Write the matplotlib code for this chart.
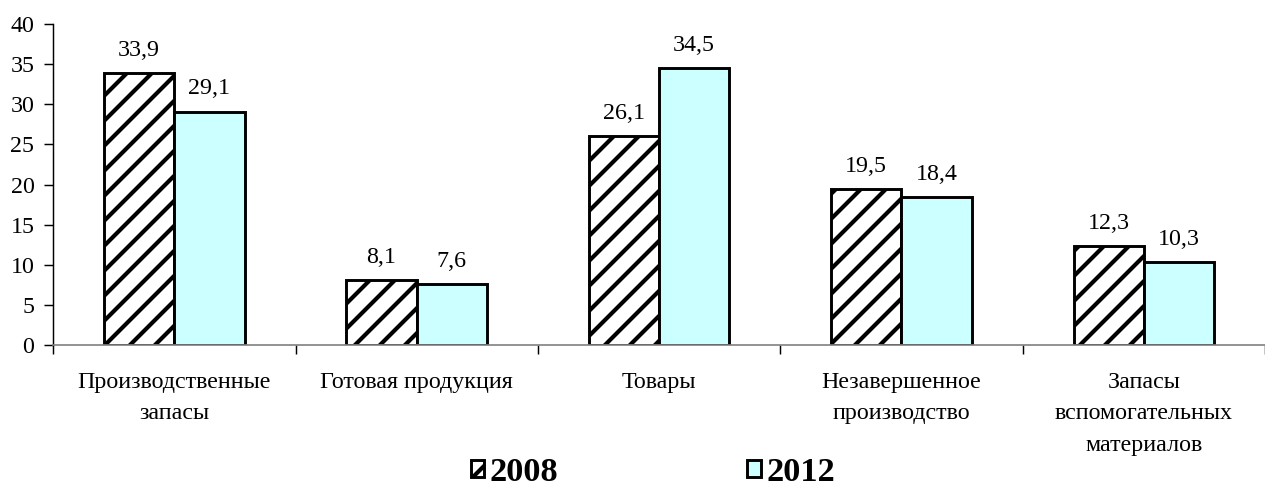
import matplotlib.pyplot as plt
import numpy as np

plt.rcParams['font.family'] = ['Liberation Serif', 'DejaVu Serif']
plt.rcParams['hatch.linewidth'] = 2.0

categories = ['Производственные\nзапасы', 'Готовая продукция', 'Товары',
              'Незавершенное\nпроизводство', 'Запасы\nвспомогательных\nматериалов']
series_names = ['2008', '2012']
values_2008 = [33.9, 8.1, 26.1, 19.5, 12.3]
values_2012 = [29.1, 7.6, 34.5, 18.4, 10.3]

DPI = 150
fs = 11.5

fig = plt.figure(figsize=(1265 / DPI, 487 / DPI), dpi=DPI)
ax = fig.add_axes([0.042, 0.2916, 0.958, 0.659])

x = np.arange(len(categories))
w = 0.29
b1 = ax.bar(x - w / 2, values_2008, w, color='white', edgecolor='black',
            hatch='//', linewidth=1.4, label=series_names[0])
b2 = ax.bar(x + w / 2, values_2012, w, color='#ccffff', edgecolor='black',
            linewidth=1.4, label=series_names[1])

for bars, vals in ((b1, values_2008), (b2, values_2012)):
    for r, v in zip(bars, vals):
        ax.text(r.get_x() + r.get_width() / 2, v + 1.5, f'{v:.1f}'.replace('.', ','),
                ha='center', va='bottom', fontsize=fs)

ax.set_xlim(-0.5, 4.5)
ax.set_ylim(0, 40)
ax.set_yticks(range(0, 41, 5))
ax.tick_params(axis='y', labelsize=fs, length=4.5, width=0.7, direction='out', pad=4.5)
ax.set_xticks(x)
ax.set_xticklabels(categories, fontsize=fs, linespacing=1.65)
ax.tick_params(axis='x', length=0, pad=13)
ax.set_xticks(np.arange(-0.5, 4.6, 1), minor=True)
ax.tick_params(axis='x', which='minor', length=4.5, width=0.7, direction='out')

for s in ('top', 'right'):
    ax.spines[s].set_visible(False)
ax.spines['bottom'].set_color('#808080')
ax.spines['bottom'].set_linewidth(0.8)
ax.spines['left'].set_color('black')
ax.spines['left'].set_linewidth(0.7)

fig.legend(handles=[b1, b2], labels=series_names, loc='center',
           bbox_to_anchor=(0.516, 0.03), ncol=2, frameon=False,
           prop={'weight': 'bold', 'size': 16.5}, columnspacing=5.5,
           handlelength=0.4, handleheight=0.4, handletextpad=0.15)

fig.savefig('out.png', dpi=DPI)
